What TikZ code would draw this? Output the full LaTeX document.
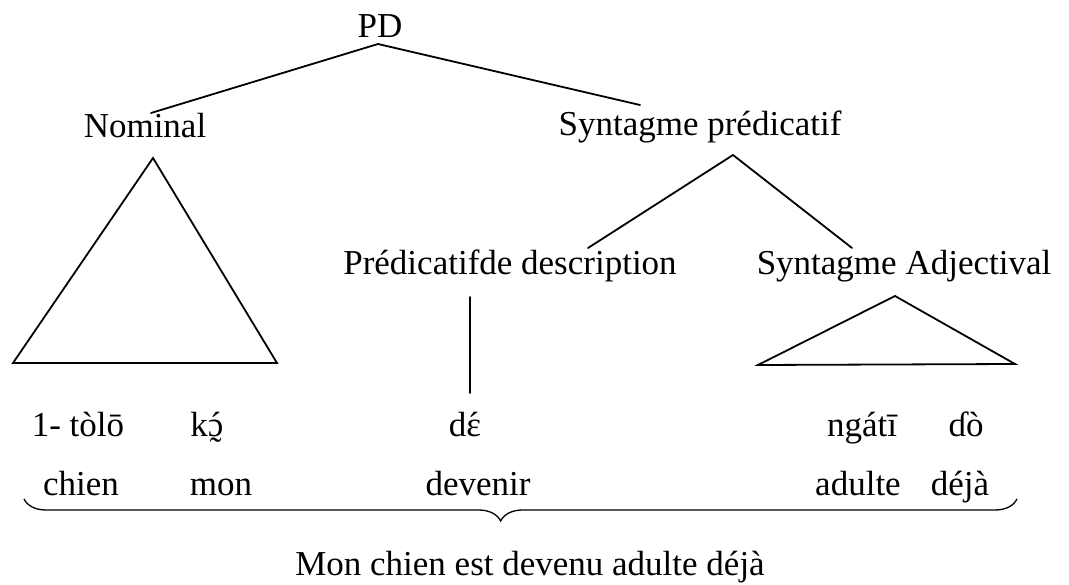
\documentclass[tikz,border=0pt]{standalone}
\usepackage{fontspec}
\setmainfont{Liberation Serif}
\usetikzlibrary{decorations.pathreplacing}
% centred marks above / below a letter
\newcommand\acuteon[1]{\ooalign{#1\cr\hidewidth\char"00B4\hidewidth\cr}}
\newcommand\tildeunder[1]{\ooalign{#1\cr\hidewidth\raisebox{-0.72em}{\char"02DC}\hidewidth\cr}}
\begin{document}
\begin{tikzpicture}[x=1pt,y=-1pt,
  lbl/.style={anchor=base,inner sep=0pt,font=\fontsize{35}{40}\selectfont},
  branch/.style={line width=1.8pt,line cap=round,line join=miter}]
\useasboundingbox[fill=white] (0,0) rectangle (1069,585);

% constituent labels
\node[lbl] (pd)  at (380,38)  {PD};
\node[lbl] (nom) at (145,138) {Nominal};
\node[lbl] (sp)  at (700,136) {Syntagme prédicatif};
\node[lbl] (pdd) at (510,275) {Prédicatifde description};
\node[lbl] (sa)  at (904,275) {Syntagme Adjectival};

% branch end points
\coordinate (pdtop) at (378,44);
\coordinate (nomR)  at (151,113);
\coordinate (spL)   at (640,105);
\coordinate (sptop) at (733,155);
\coordinate (pddR)  at (588,248);
\coordinate (saL)   at (852,248);
\coordinate (vtop)  at (470,297);
\coordinate (vbot)  at (470,393);
\coordinate (tA)    at (153,158);
\coordinate (tB)    at (13,363);
\coordinate (tC)    at (277,363);
\coordinate (sA)    at (895,296);
\coordinate (sB)    at (758,365);
\coordinate (sC)    at (1015,364);

\draw[branch] (nomR) -- (pdtop) -- (spL);
\draw[branch] (pddR) -- (sptop) -- (saL);
\draw[branch] (vtop) -- (vbot);
\draw[branch] (tA) -- (tB) -- (tC) -- cycle;
\draw[branch] (sA) -- (sB) -- (sC) -- cycle;

% words and glosses
\node[lbl] (w1) at (78,436)  {1- tòlō};
\node[lbl] (w2) at (207,436) {k\acuteon{\tildeunder{ɔ}}};
\node[lbl] (w3) at (465,436) {d\acuteon{ɛ}};
\node[lbl] (w4) at (862,436) {ngátī};
\node[lbl] (w5) at (966,436) {ɗò};
\node[lbl] (g1) at (81,495)  {chien};
\node[lbl] (g2) at (221,495) {mon};
\node[lbl] (g3) at (478,495) {devenir};
\node[lbl] (g4) at (858,495) {adulte};
\node[lbl] (g5) at (960,495) {déjà};

% brace and free translation
\coordinate (brL) at (24,499);
\coordinate (brR) at (1017,499);
\draw[line width=1.3pt,decorate,
  decoration={brace,mirror,amplitude=22pt,aspect=0.48}] (brL) -- (brR);
\node[lbl] (tr) at (530,575) {Mon chien est devenu adulte déjà};
\end{tikzpicture}
\end{document}
